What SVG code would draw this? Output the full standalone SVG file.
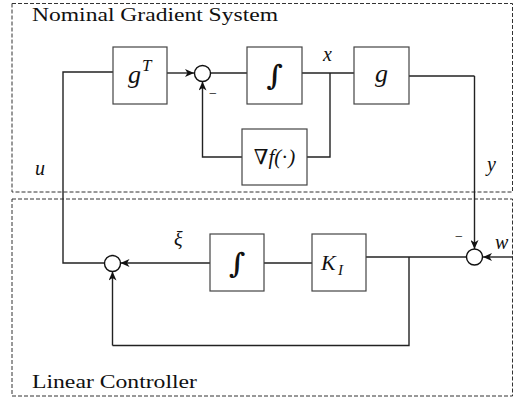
<svg xmlns="http://www.w3.org/2000/svg" width="515" height="401" viewBox="0 0 515 401">
<defs>
<marker id="arr" markerWidth="10" markerHeight="8" refX="9" refY="4" orient="auto" markerUnits="userSpaceOnUse">
<path d="M0,0 L9,4 L0,8 L2.5,4 Z" fill="#111"/>
</marker>
</defs>
<style>
.frame{fill:none;stroke:#333;stroke-width:1;stroke-dasharray:4,2}
.blk{fill:#fff;stroke:#444;stroke-width:1.2}
.sum{fill:#fff;stroke:#111;stroke-width:1.4}
.w{fill:none;stroke:#222;stroke-width:1.4}
.wa{fill:none;stroke:#222;stroke-width:1.4;marker-end:url(#arr)}
.m{font-style:italic;fill:#111}
.t{fill:#111}
.int{font-family:'DejaVu Serif',serif;font-weight:bold;fill:#111;font-size:28px}
</style>
<rect class="frame" x="12" y="3.5" width="500.5" height="188.5"/>
<rect class="frame" x="12" y="199" width="500.5" height="197"/>
<g font-family="'Liberation Serif', 'DejaVu Serif', serif">
<text class="t" x="32" y="21" font-size="19" textLength="246" lengthAdjust="spacingAndGlyphs">Nominal Gradient System</text>
<text class="t" x="32" y="388" font-size="19" textLength="165" lengthAdjust="spacingAndGlyphs">Linear Controller</text>
</g>
<g id="connectors">
<polyline class="wa" points="167,73 194,73"/>
<polyline class="w" points="210.5,73 247,73"/>
<polyline class="w" points="302,73 354,73"/>
<polyline class="w" points="330,73 330,157 307,157"/>
<polyline class="wa" points="242,157 202.5,157 202.5,81.5"/>
<polyline class="w" points="113,72 63,72 63,263 104,263"/>
<polyline class="w" points="409,76 474.5,76"/>
<polyline class="wa" points="474.5,76 474.5,249"/>
<polyline class="wa" points="513,257 483,257"/>
<polyline class="w" points="466.5,257 366,257"/>
<polyline class="w" points="409,257 409,345.5 112.5,345.5"/>
<polyline class="wa" points="112.5,345.5 112.5,271.5"/>
<polyline class="w" points="312,263 264,263"/>
<polyline class="wa" points="210,263 120.5,263"/>
</g>
<g font-family="'Liberation Serif', 'DejaVu Serif', serif">
<g id="gT"><rect class="blk" x="113" y="47" width="54" height="57"/><text class="m" x="128" y="83" font-size="26">g</text><text class="m" x="142" y="71" font-size="17">T</text></g>
<g id="sum1"><circle class="sum" cx="202.5" cy="73.5" r="8"/><text class="t" x="209" y="98" font-size="14">−</text></g>
<g id="int1"><rect class="blk" x="247" y="47" width="55" height="57"/><text class="int" x="274.5" y="85" text-anchor="middle">∫</text></g>
<g id="g"><rect class="blk" x="354" y="47" width="55" height="57"/><text class="m" x="381.5" y="82" font-size="26" text-anchor="middle">g</text></g>
<g id="grad"><rect class="blk" x="242" y="129" width="65" height="56"/><text class="m" x="274.5" y="164" font-size="21" text-anchor="middle"><tspan font-style="normal">∇</tspan>f(<tspan font-style="normal">·</tspan>)</text></g>
<g id="sum2"><circle class="sum" cx="112.5" cy="263.5" r="8"/></g>
<g id="int2"><rect class="blk" x="210" y="234" width="54" height="57"/><text class="int" x="237" y="273" text-anchor="middle">∫</text></g>
<g id="KI"><rect class="blk" x="312" y="234" width="54" height="57"/><text class="m" x="321" y="270" font-size="22">K</text><text class="m" x="338" y="275" font-size="15">I</text></g>
<g id="sum3"><circle class="sum" cx="474.5" cy="257" r="8"/><text class="t" x="455" y="241" font-size="14">−</text></g>
<text class="m" x="323" y="61" font-size="20">x</text>
<text class="m" x="487" y="171" font-size="20">y</text>
<text class="m" x="35" y="175" font-size="20">u</text>
<text class="m" x="174" y="246" font-size="20">ξ</text>
<text class="m" x="495" y="249" font-size="20">w</text>
</g>
</svg>
